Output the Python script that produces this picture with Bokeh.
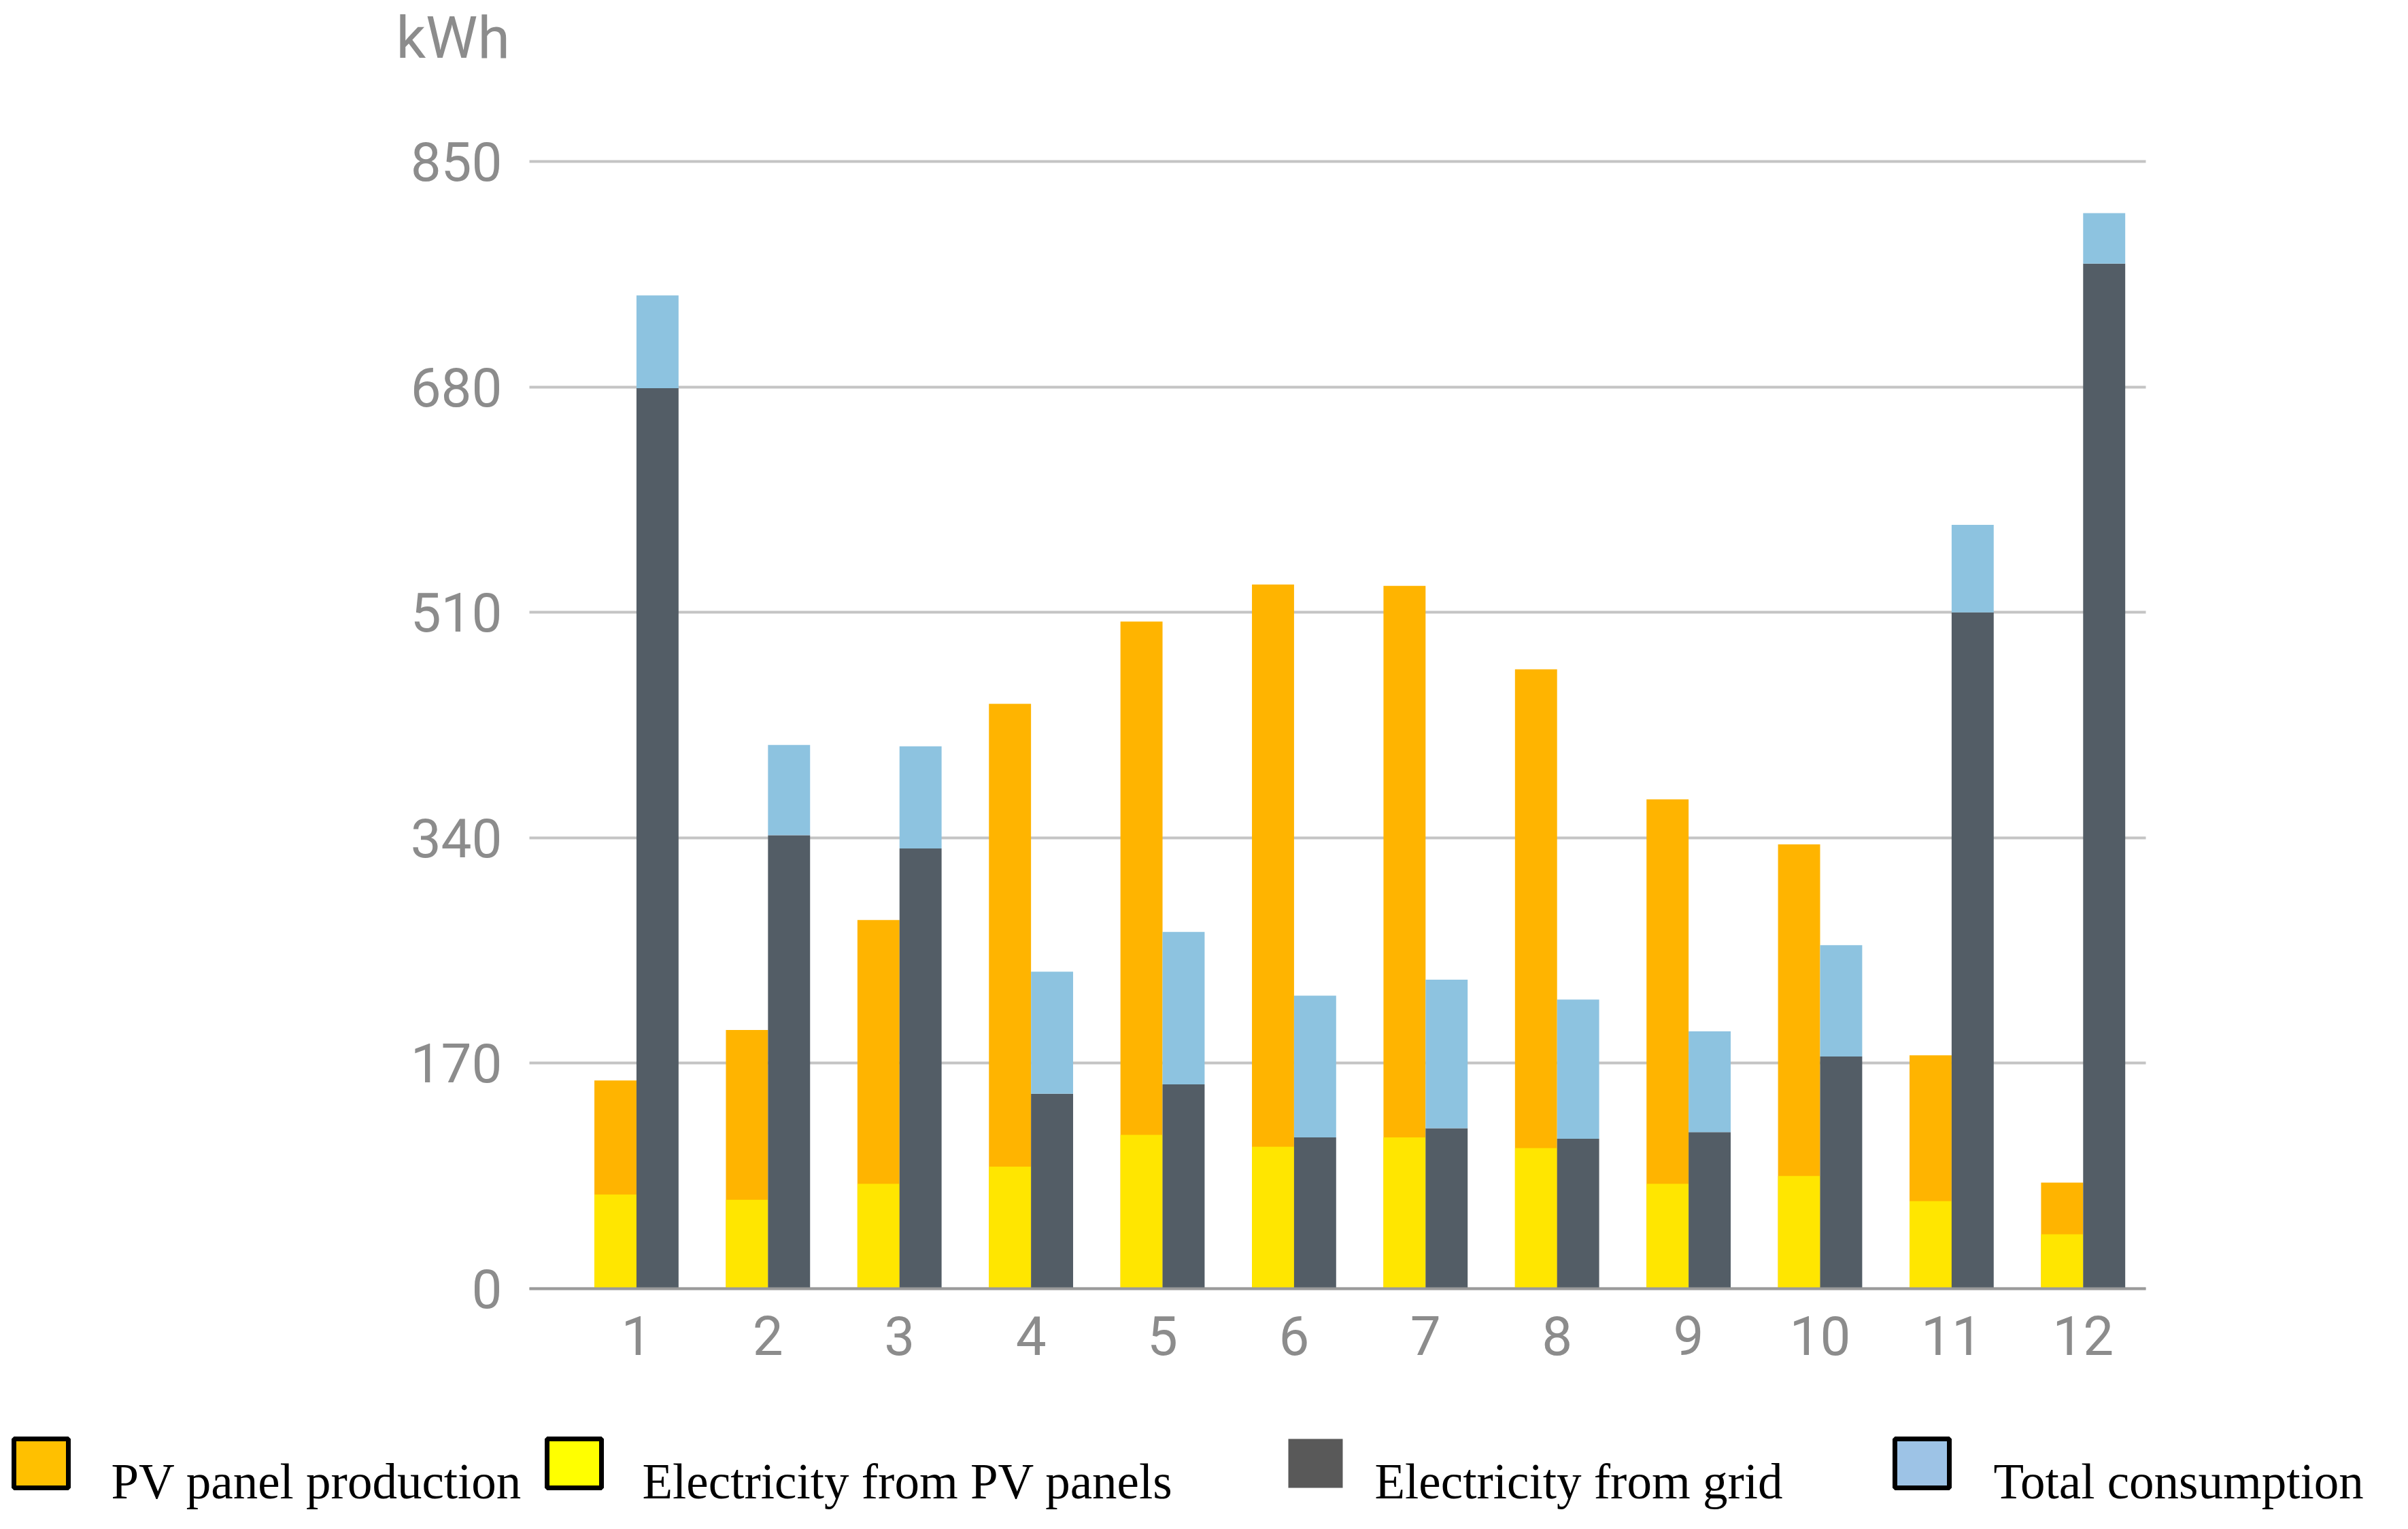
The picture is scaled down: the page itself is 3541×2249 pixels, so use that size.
from bokeh.plotting import figure
from bokeh.models import Range1d, FixedTicker, Legend, LegendItem, Label
from bokeh.embed import file_html
from bokeh.resources import INLINE

# monthly energy values, kWh
months = [1, 2, 3, 4, 5, 6, 7, 8, 9, 10, 11, 12]
pv_production = [157, 195, 278, 441, 503, 531, 530, 467, 369, 335, 176, 80]
pv_used = [71, 67, 79, 92, 116, 107, 114, 106, 79, 85, 66, 41]
grid = [679, 342, 332, 147, 154, 114, 121, 113, 118, 175, 510, 773]
total_consumption = [749, 410, 409, 239, 269, 221, 233, 218, 194, 259, 576, 811]
y_ticks = [0, 170, 340, 510, 680, 850]

GREY_TXT = "#8c8c8c"
BAR_W = 0.32
X_LO, X_HI = 0.186, 12.476      # extent of the plotting area proper
Y_LO, Y_HI = 0, 850

# the frame covers the whole canvas so the legend and unit label are not clipped;
# the axes are pinned inside it with fixed_location
p = figure(width=3525, height=2233, output_backend="svg", toolbar_location=None,
           x_range=Range1d(-3.837, 14.390), y_range=Range1d(-173.3, 971.5), min_border=0)
p.outline_line_color = None

x_left = [m - BAR_W / 2 for m in months]
x_right = [m + BAR_W / 2 for m in months]

p.vbar(x=x_left, top=pv_production, bottom=0, width=BAR_W, fill_color="#FFB400", line_color=None)
p.vbar(x=x_left, top=pv_used, bottom=0, width=BAR_W, fill_color="#FFE600", line_color=None)
p.vbar(x=x_right, top=grid, bottom=0, width=BAR_W, fill_color="#535D66", line_color=None)
p.vbar(x=x_right, top=total_consumption, bottom=grid, width=BAR_W, fill_color="#8DC3E0", line_color=None)

# axes
p.xaxis.ticker = FixedTicker(ticks=months)
p.yaxis.ticker = FixedTicker(ticks=y_ticks)
p.xaxis.fixed_location = Y_LO
p.yaxis.fixed_location = X_LO
p.xaxis.bounds = (X_LO, X_HI)
p.yaxis.bounds = (Y_LO, Y_HI)
for ax in (p.xaxis[0], p.yaxis[0]):
    ax.major_tick_line_color = None
    ax.minor_tick_line_color = None
    ax.major_label_text_font = "Roboto"
    ax.major_label_text_font_size = "80px"
    ax.major_label_text_color = GREY_TXT
p.yaxis.axis_line_color = None
p.yaxis.major_label_standoff = 34
p.xaxis.axis_line_color = "#9a9a9a"
p.xaxis.axis_line_width = 4
p.xaxis.major_label_standoff = 35

p.xgrid.grid_line_color = None
p.ygrid.grid_line_color = "#c4c4c4"
p.ygrid.grid_line_width = 4
p.ygrid.cross_bounds = (X_LO, X_HI)
p.ygrid.bounds = (Y_LO, Y_HI)

p.add_layout(Label(x=582, y=2178, x_units="screen", y_units="screen", text="kWh",
                   text_font="Roboto", text_font_size="86px", text_color=GREY_TXT,
                   text_baseline="alphabetic"))

# legend under the chart: black-edged swatches, with the captions set a little
# lower than the swatch centres as in the original
legend_specs = [
    ("PV panel production", "#FFC000", "black", 10, 163),
    ("Electricity from PV panels", "#FFFF00", "black", 794, 944),
    ("Electricity from grid", "#595959", None, 1884, 2021),
    ("Total consumption", "#9DC3E6", "black", 2776, 2931),
]
for label, fill, line, lx, tx in legend_specs:
    r = p.vbar(x=months[:1], top=pv_production[:1], width=BAR_W, fill_color=fill,
               line_color=line, line_width=7, visible=False)
    leg = Legend(items=[LegendItem(label="", renderers=[r])], location=(lx, 36),
                 glyph_width=100, glyph_height=90, label_standoff=0,
                 padding=0, margin=0, border_line_color=None, background_fill_alpha=0,
                 inactive_fill_alpha=0)
    p.add_layout(leg)
    p.add_layout(Label(x=tx, y=95, x_units="screen", y_units="screen", text=label,
                       text_font="Liberation Serif", text_font_size="73px",
                       text_color="black", text_baseline="top"))

open("out.html", "w").write(file_html(p, INLINE))
